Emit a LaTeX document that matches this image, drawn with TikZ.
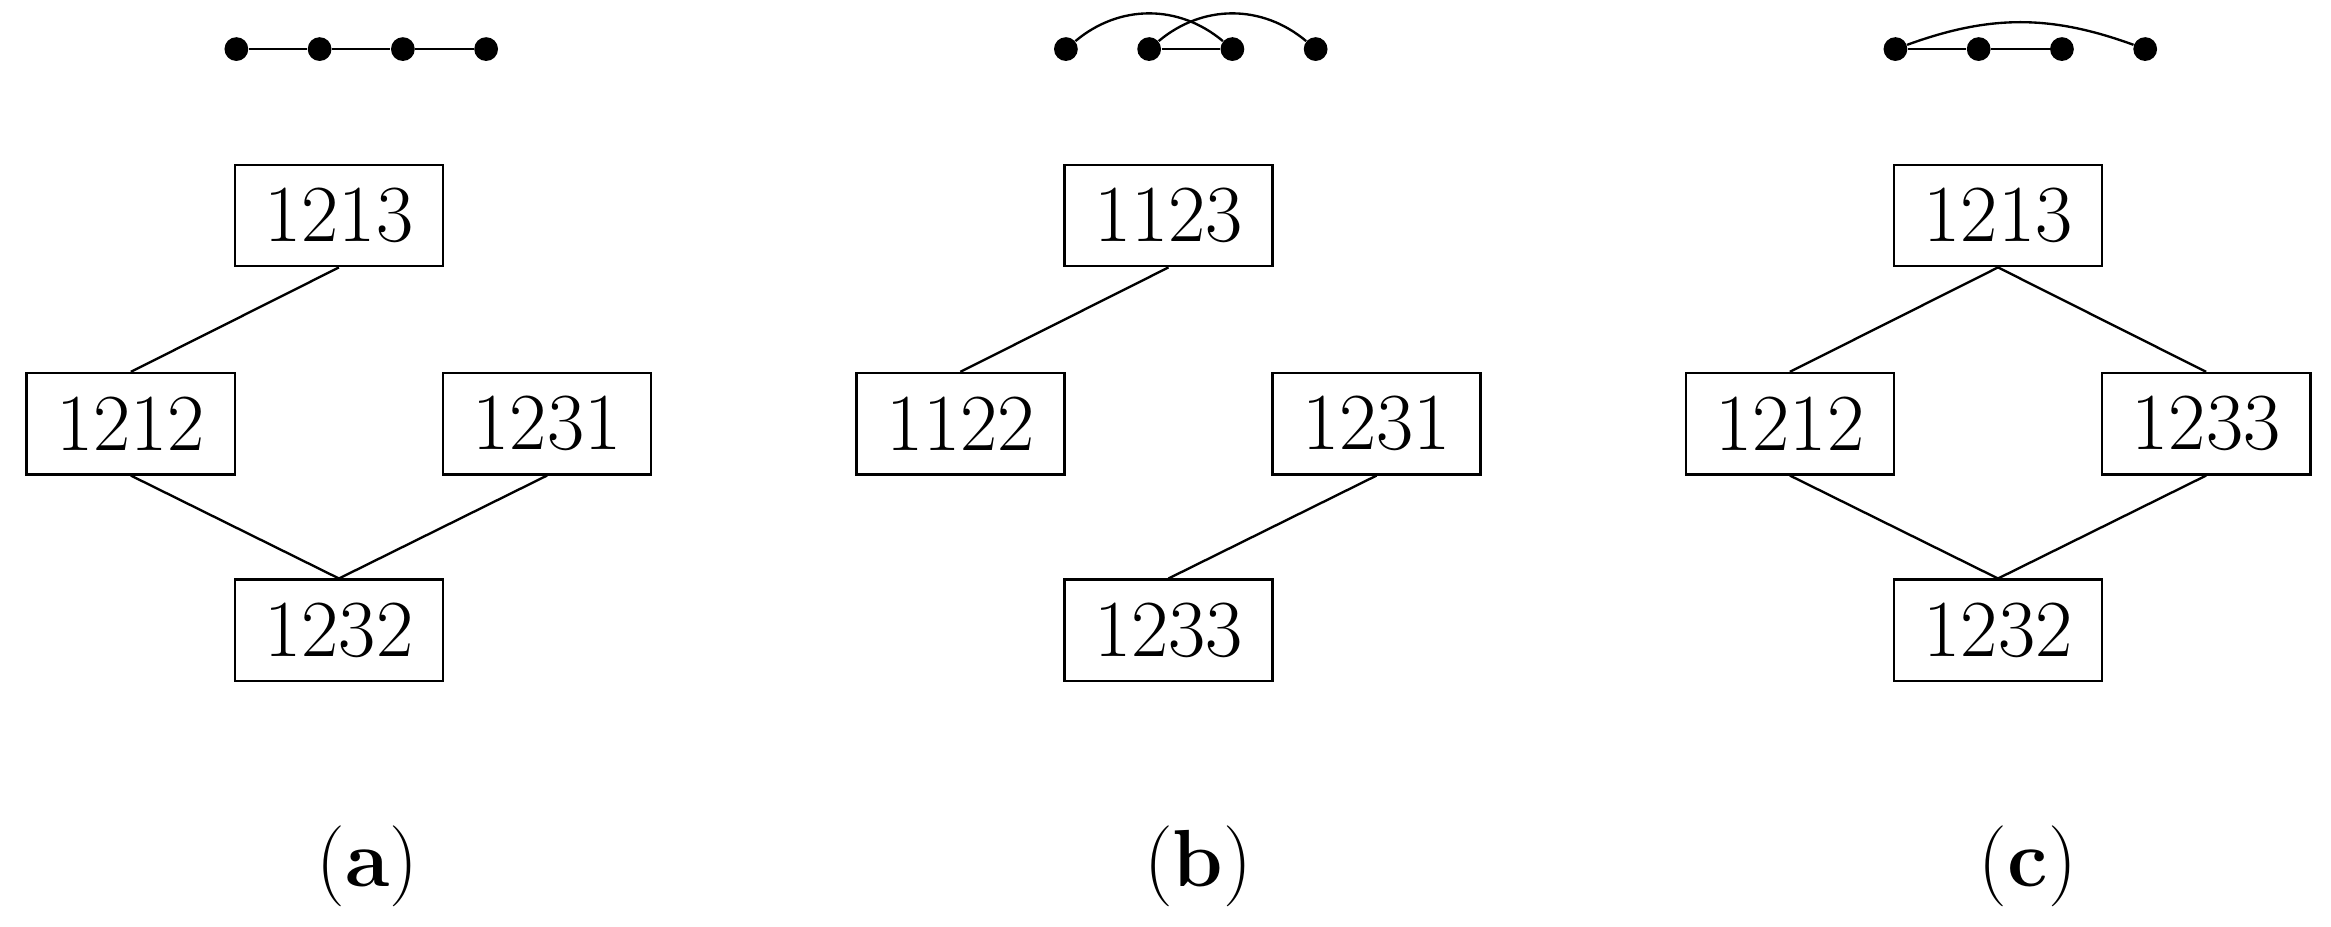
\documentclass[tikz,border=0pt]{standalone}
\begin{document}
\begin{tikzpicture}[x=0.02cm,y=-0.02cm,
  box/.style={draw,line width=1pt,minimum width=2.8cm,minimum height=1.36cm,inner sep=0pt,font=\fontsize{31}{36}\selectfont},
  dot/.style={circle,fill,inner sep=0pt,minimum size=0.32cm},
  lbl/.style={font=\fontsize{31}{36}\selectfont},
  edge/.style={line width=0.9pt}]
\useasboundingbox (0,0) rectangle (1568,623);
% panel a
\node[box] (a1) at (228,145) {1213};
\node[box] (a2) at (88,285) {1212};
\node[box] (a3) at (368,285) {1231};
\node[box] (a4) at (228,424) {1232};
\draw[edge] (a1.south) -- (a2.north);
\draw[edge] (a2.south) -- (a4.north);
\draw[edge] (a3.south) -- (a4.north);
\node[dot] (ad1) at (159,33) {}; \node[dot] (ad2) at (215,33) {};
\node[dot] (ad3) at (271,33) {}; \node[dot] (ad4) at (327,33) {};
\draw[edge] (ad1) -- (ad2) -- (ad3) -- (ad4);
\node[lbl] (la) at (247,583) {(\textbf{a})};
% panel b
\node[box] (b1) at (786,145) {1123};
\node[box] (b2) at (646,285) {1122};
\node[box] (b3) at (926,285) {1231};
\node[box] (b4) at (786,424) {1233};
\draw[edge] (b1.south) -- (b2.north);
\draw[edge] (b3.south) -- (b4.north);
\node[dot] (bd1) at (717,33) {}; \node[dot] (bd2) at (773,33) {};
\node[dot] (bd3) at (829,33) {}; \node[dot] (bd4) at (885,33) {};
\draw[edge] (bd2) -- (bd3);
\draw[edge] (bd1) to[bend left=40] (bd3);
\draw[edge] (bd2) to[bend left=40] (bd4);
\node[lbl] (lb) at (806,583) {(\textbf{b})};
% panel c
\node[box] (c1) at (1344,145) {1213};
\node[box] (c2) at (1204,285) {1212};
\node[box] (c3) at (1484,285) {1233};
\node[box] (c4) at (1344,424) {1232};
\draw[edge] (c1.south) -- (c2.north);
\draw[edge] (c1.south) -- (c3.north);
\draw[edge] (c2.south) -- (c4.north);
\draw[edge] (c3.south) -- (c4.north);
\node[dot] (cd1) at (1275,33) {}; \node[dot] (cd2) at (1331,33) {};
\node[dot] (cd3) at (1387,33) {}; \node[dot] (cd4) at (1443,33) {};
\draw[edge] (cd1) -- (cd2) -- (cd3);
\draw[edge] (cd1) to[bend left=20] (cd4);
\node[lbl] (lc) at (1364,583) {(\textbf{c})};
\end{tikzpicture}
\end{document}
